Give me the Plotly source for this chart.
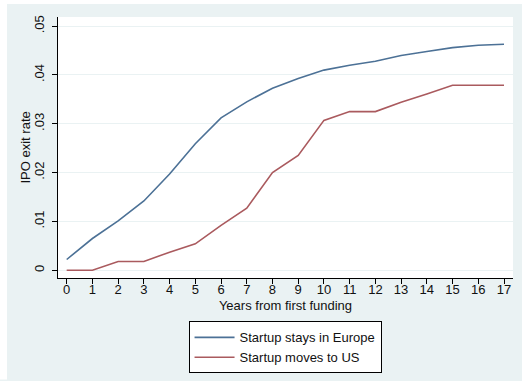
import plotly.graph_objects as go

# Years since first funding round
years = list(range(0, 18))

# Cumulative IPO exit rate by location of the startup
stays_europe = [0.0022, 0.0065, 0.0101, 0.0142, 0.0197, 0.0259, 0.0312, 0.0345, 0.0373,
                0.0393, 0.0410, 0.0420, 0.0428, 0.0440, 0.0448, 0.0456, 0.0461, 0.0463]
moves_us = [0.0, 0.0, 0.0018, 0.0018, 0.0037, 0.0054, 0.0092, 0.0127, 0.0200,
            0.0235, 0.0307, 0.0325, 0.0325, 0.0344, 0.0361, 0.0379, 0.0379, 0.0379]

y_ticks = [0, 0.01, 0.02, 0.03, 0.04, 0.05]
y_tick_labels = ["0", ".01", ".02", ".03", ".04", ".05"]

BG = "#EAF2F3"
BLUE = "#4C7196"
RED = "#AA5A5E"
FONT = "Liberation Sans, Arial, Helvetica, sans-serif"

fig = go.Figure()
fig.add_trace(go.Scatter(x=years, y=stays_europe, mode="lines", name="Startup stays in Europe",
                         line=dict(color=BLUE, width=1.6)))
fig.add_trace(go.Scatter(x=years, y=moves_us, mode="lines", name="Startup moves to US",
                         line=dict(color=RED, width=1.6)))

# thin white border strips along the left and top edges of the page
plot_w, plot_h = 455, 262
fig.add_shape(type="rect", xref="paper", yref="paper", layer="above",
              x0=-58 / plot_w, x1=(7 - 58) / plot_w, y0=-102 / plot_h, y1=(262 + 17) / plot_h,
              fillcolor="white", line=dict(width=0))
fig.add_shape(type="rect", xref="paper", yref="paper", layer="above",
              x0=-58 / plot_w, x1=(522 - 58) / plot_w, y0=(262 + 13) / plot_h, y1=(262 + 17) / plot_h,
              fillcolor="white", line=dict(width=0))

# y-axis title placed close to the rotated tick labels
fig.add_annotation(text="IPO exit rate", textangle=-90, xref="paper", yref="paper",
                   x=(25 - 58) / plot_w, y=0.5, xanchor="center", yanchor="middle",
                   showarrow=False, font=dict(size=13))

fig.update_layout(
    width=522, height=381,
    margin=dict(l=58, r=9, t=17, b=102),
    paper_bgcolor=BG, plot_bgcolor="white",
    font=dict(family=FONT, size=13, color="#111111"),
    showlegend=True,
    legend=dict(orientation="v", x=0.499, xanchor="center", y=-0.162, yanchor="top",
                bgcolor="white", bordercolor="black", borderwidth=1,
                font=dict(size=13), tracegroupgap=0, itemwidth=40),
    xaxis=dict(range=[-0.338, 17.35], tickmode="array", tickvals=years,
               ticks="outside", ticklen=5, tickcolor="black", showgrid=False,
               showline=True, linecolor="black", linewidth=1, zeroline=False,
               ticklabelstandoff=-6,
               title=dict(text="Years from first funding", standoff=5, font=dict(size=13)),
               tickfont=dict(size=13)),
    yaxis=dict(range=[-0.00159, 0.05188], tickmode="array", tickvals=y_ticks,
               ticktext=y_tick_labels, tickangle=-90,
               ticks="outside", ticklen=5, tickcolor="black",
               showgrid=True, gridcolor=BG, gridwidth=1,
               showline=True, linecolor="black", linewidth=1, zeroline=False,
               ticklabelstandoff=3,
               tickfont=dict(size=13)),
)

fig.write_html("out.html")
